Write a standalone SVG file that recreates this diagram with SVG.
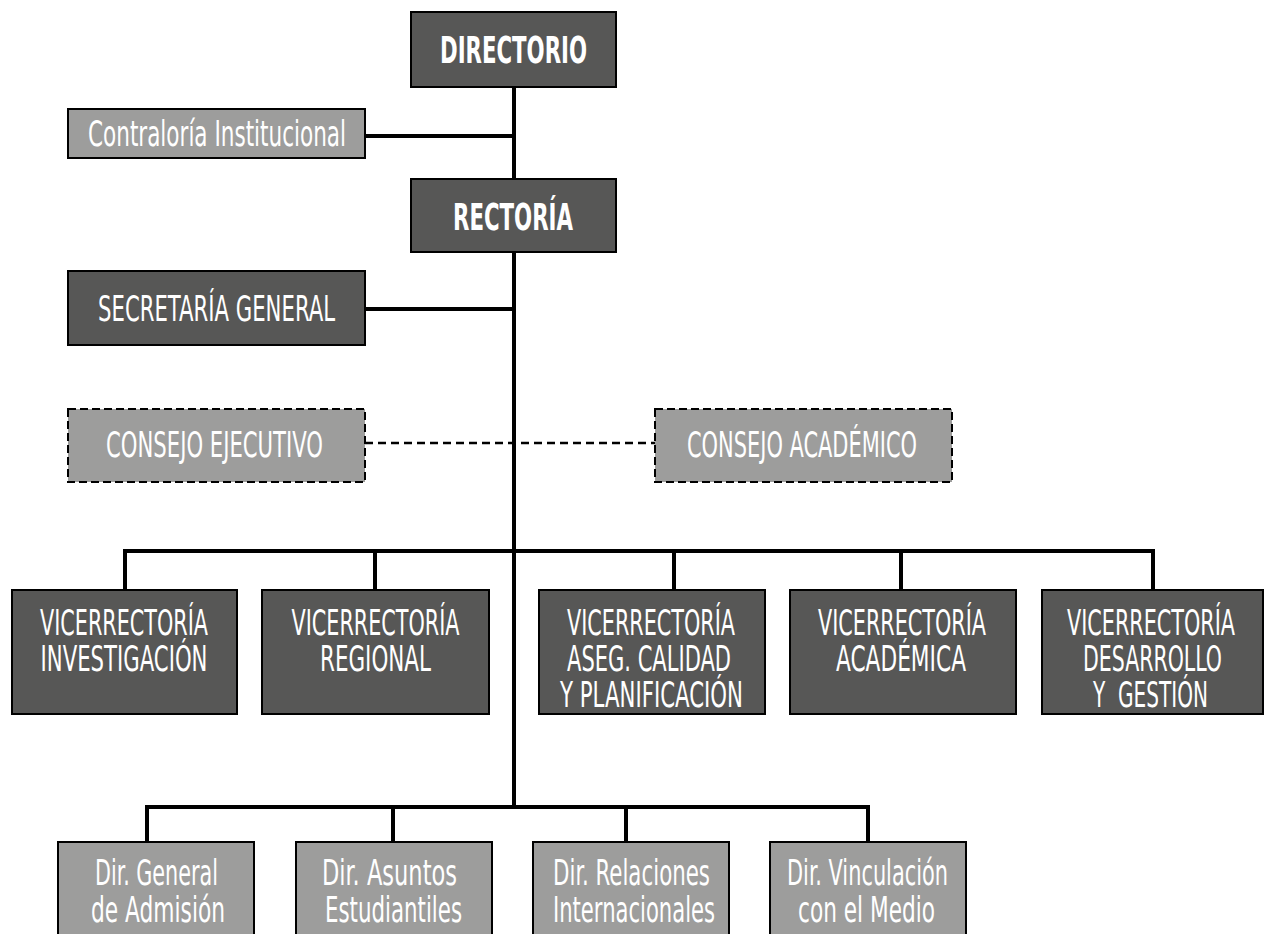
<svg xmlns="http://www.w3.org/2000/svg" width="1265" height="934" viewBox="0 0 1265 934">
<style>
.dark{fill:#575756;stroke:#000;stroke-width:2}
.light{fill:#9d9d9c;stroke:#000;stroke-width:2}
.dash{fill:#9d9d9c;stroke:#000;stroke-width:2;stroke-dasharray:8 4}
.t{fill:#fff;font-family:"Liberation Sans Narrow","DejaVu Sans Condensed","Liberation Sans",sans-serif;font-size:35px;text-anchor:middle}
.b{font-weight:bold;font-size:37px}
.ln{stroke:#000;stroke-width:4;fill:none}
.dl{stroke:#000;stroke-width:2.5;fill:none;stroke-dasharray:8 5}
</style>
<rect width="1265" height="934" fill="#fff"/>
<g id="connectors">
<path class="ln" d="M514 87V179M514 252V807M365 136H514M365 309H514"/>
<path class="dl" d="M365 443H655"/>
<path class="ln" d="M125 551H1153M125 549V590M375 551V590M674 551V590M901 551V590M1153 549V590"/>
<path class="ln" d="M147 807H868M147 805V842M393 807V842M626 807V842M868 805V842"/>
</g>
<g id="directorio"><rect class="dark" x="411" y="12" width="205" height="75"/><text class="t b" x="513.5" y="63" textLength="147" lengthAdjust="spacingAndGlyphs">DIRECTORIO</text></g>
<g id="contraloria"><rect class="light" x="68" y="109" width="297" height="49"/><text class="t" x="217" y="146" textLength="258" lengthAdjust="spacingAndGlyphs">Contraloría Institucional</text></g>
<g id="rectoria"><rect class="dark" x="411" y="179" width="205" height="73"/><text class="t b" x="513" y="230" textLength="120" lengthAdjust="spacingAndGlyphs">RECTORÍA</text></g>
<g id="secretaria"><rect class="dark" x="68" y="271" width="297" height="74"/><text class="t" x="216.5" y="321" textLength="237" lengthAdjust="spacingAndGlyphs">SECRETARÍA GENERAL</text></g>
<g id="consejo-ejecutivo"><rect class="dash" x="68" y="409" width="297" height="73"/><text class="t" x="214.5" y="457" textLength="217" lengthAdjust="spacingAndGlyphs">CONSEJO EJECUTIVO</text></g>
<g id="consejo-academico"><rect class="dash" x="655" y="409" width="297" height="73"/><text class="t" x="802" y="457" textLength="230" lengthAdjust="spacingAndGlyphs">CONSEJO ACADÉMICO</text></g>
<g id="vr-investigacion"><rect class="dark" x="12" y="590" width="225" height="124"/><text class="t" x="124" y="635" textLength="168" lengthAdjust="spacingAndGlyphs">VICERRECTORÍA</text><text class="t" x="124" y="671" textLength="167" lengthAdjust="spacingAndGlyphs">INVESTIGACIÓN</text></g>
<g id="vr-regional"><rect class="dark" x="262" y="590" width="227" height="124"/><text class="t" x="375.5" y="635" textLength="168" lengthAdjust="spacingAndGlyphs">VICERRECTORÍA</text><text class="t" x="375.5" y="671" textLength="111" lengthAdjust="spacingAndGlyphs">REGIONAL</text></g>
<g id="vr-calidad"><rect class="dark" x="539" y="590" width="226" height="124"/><text class="t" x="651" y="635" textLength="168" lengthAdjust="spacingAndGlyphs">VICERRECTORÍA</text><text class="t" x="649" y="671" textLength="164" lengthAdjust="spacingAndGlyphs">ASEG. CALIDAD</text><text class="t" x="651.5" y="707" textLength="183" lengthAdjust="spacingAndGlyphs">Y PLANIFICACIÓN</text></g>
<g id="vr-academica"><rect class="dark" x="790" y="590" width="226" height="124"/><text class="t" x="902" y="635" textLength="168" lengthAdjust="spacingAndGlyphs">VICERRECTORÍA</text><text class="t" x="901" y="671" textLength="130" lengthAdjust="spacingAndGlyphs">ACADÉMICA</text></g>
<g id="vr-desarrollo"><rect class="dark" x="1042" y="590" width="221" height="124"/><text class="t" x="1151" y="635" textLength="168" lengthAdjust="spacingAndGlyphs">VICERRECTORÍA</text><text class="t" x="1152.5" y="671" textLength="139" lengthAdjust="spacingAndGlyphs">DESARROLLO</text><text class="t" x="1150.5" y="707" textLength="115" lengthAdjust="spacingAndGlyphs" xml:space="preserve">Y  GESTIÓN</text></g>
<g id="dir-admision"><rect class="light" x="58" y="842" width="196" height="110"/><text class="t" x="156.5" y="885" textLength="123" lengthAdjust="spacingAndGlyphs">Dir. General</text><text class="t" x="158" y="922" textLength="134" lengthAdjust="spacingAndGlyphs">de Admisión</text></g>
<g id="dir-asuntos"><rect class="light" x="296" y="842" width="196" height="110"/><text class="t" x="389.5" y="885" textLength="135" lengthAdjust="spacingAndGlyphs">Dir. Asuntos</text><text class="t" x="393.5" y="922" textLength="137" lengthAdjust="spacingAndGlyphs">Estudiantiles</text></g>
<g id="dir-relaciones"><rect class="light" x="533" y="842" width="196" height="110"/><text class="t" x="631.5" y="885" textLength="157" lengthAdjust="spacingAndGlyphs">Dir. Relaciones</text><text class="t" x="634" y="922" textLength="162" lengthAdjust="spacingAndGlyphs">Internacionales</text></g>
<g id="dir-vinculacion"><rect class="light" x="770" y="842" width="196" height="110"/><text class="t" x="867.5" y="885" textLength="161" lengthAdjust="spacingAndGlyphs">Dir. Vinculación</text><text class="t" x="866.5" y="922" textLength="137" lengthAdjust="spacingAndGlyphs">con el Medio</text></g>
</svg>
